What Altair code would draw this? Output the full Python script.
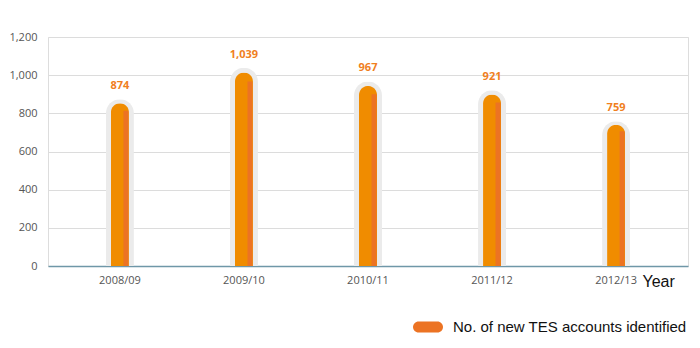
import altair as alt
import pandas as pd

years = ["2008/09", "2009/10", "2010/11", "2011/12", "2012/13"]
values = [874, 1039, 967, 921, 759]
labels = ["874", "1,039", "967", "921", "759"]
series = "No. of new TES accounts identified"

df = pd.DataFrame({"year": years, "value": values, "label": labels, "series": series})

FONT = "Open Sans"
x = alt.X("year:N", sort=years, title="Year",
          scale=alt.Scale(paddingOuter=0.08, paddingInner=0),
          axis=alt.Axis(labelAngle=0, ticks=False, labelPadding=8, labelFontSize=11,
                        labelColor="#555555", labelFont=FONT,
                        domainColor="#6F97A8", domainWidth=1.5,
                        titleFont="Liberation Sans", titleFontSize=16,
                        titleFontWeight="normal", titleColor="#111111",
                        titleAnchor="start", titleAlign="left", titleBaseline="middle",
                        titleX=594, titleY=15))
y_main = alt.Y("value:Q", scale=alt.Scale(domain=[0, 1200], nice=False),
               axis=alt.Axis(values=[0, 200, 400, 600, 800, 1000, 1200], format=",.0f",
                             title=None, ticks=False, domain=False, labelPadding=11,
                             labelFontSize=11, labelColor="#555555", labelFont=FONT,
                             gridColor="#DCDCDC", gridWidth=1))
# inner bars sit slightly lower inside the grey halo
y_inner = alt.Y("value:Q", scale=alt.Scale(domain=[0, 1230], nice=False), axis=None)
y_strip = alt.Y("value:Q", scale=alt.Scale(domain=[0, 1290], nice=False), axis=None)
y_text = alt.Y("value:Q", scale=alt.Scale(domain=[0, 1200], nice=False), axis=None)

base = alt.Chart(df)

halo = base.mark_bar(color="#EBEBEB", size=28, cornerRadiusTopLeft=14,
                     cornerRadiusTopRight=14).encode(x=x, y=y_main)

bar = base.mark_bar(size=18, cornerRadiusTopLeft=9, cornerRadiusTopRight=9,
                    color="#F08C00").encode(x=x, y=y_inner)

strip = base.mark_bar(size=5, xOffset=6).encode(
    x=x, y=y_strip,
    color=alt.Color("series:N", scale=alt.Scale(range=["#EC7323"]),
                    legend=alt.Legend(
                        title=None, orient="none", legendX=365, legendY=275,
                        symbolType="M-0.63,-0.37 L0.63,-0.37 A0.37,0.37 0 0 1 0.63,0.37 L-0.63,0.37 A0.37,0.37 0 0 1 -0.63,-0.37 Z",
                        symbolSize=900, symbolStrokeWidth=0,
                        labelFont="Liberation Sans", labelFontSize=15,
                        labelColor="#111111", labelOffset=10, labelLimit=400,
                        padding=0)))

text = base.mark_text(dy=-13, fontWeight="bold", fontSize=11, color="#F07F1E",
                      font=FONT, baseline="middle").encode(x=x, y=y_text, text="label:N")

chart = alt.layer(halo, bar, strip, text).resolve_scale(y="independent").properties(
    width=640, height=229,
    autosize=alt.AutoSizeParams(type="none"),
    padding={"left": 48, "top": 37, "right": 12, "bottom": 82},
).configure_view(stroke=None).configure(background="white")

chart.save("out.html", embed_options={"renderer": "svg", "actions": False})
